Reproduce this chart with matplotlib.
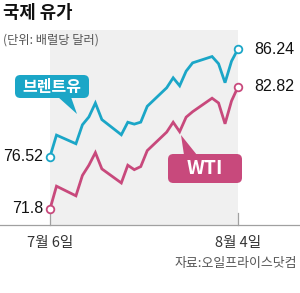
import matplotlib
matplotlib.use("Agg")
import matplotlib.pyplot as plt
import matplotlib.dates as mdates
from matplotlib import font_manager
from matplotlib.patches import FancyBboxPatch, Polygon
from matplotlib.lines import Line2D
import pandas as pd

plt.rcParams['font.family'] = ['Noto Sans CJK KR', 'DejaVu Sans']

# ---- data ----
dates = ["2023-07-06", "2023-07-07", "2023-07-10", "2023-07-11", "2023-07-12",
         "2023-07-13", "2023-07-14", "2023-07-17", "2023-07-18", "2023-07-19",
         "2023-07-20", "2023-07-21", "2023-07-24", "2023-07-25", "2023-07-26",
         "2023-07-27", "2023-07-28", "2023-07-31", "2023-08-01", "2023-08-02",
         "2023-08-03", "2023-08-04"]
brent = [76.52, 78.47, 77.69, 79.40, 80.11, 81.36, 79.87, 78.50, 79.63, 79.46,
         79.64, 81.07, 82.74, 83.64, 82.92, 84.24, 84.99, 85.56, 84.91, 83.20,
         85.14, 86.24]
wti = [71.80, 73.86, 72.99, 74.83, 75.75, 76.89, 75.42, 74.15, 75.75, 75.35,
       75.63, 77.07, 78.74, 79.63, 78.78, 80.09, 80.58, 81.80, 81.37, 79.49,
       81.55, 82.82]
series_names = ["브렌트유", "WTI"]
tick_labels = ["7월 6일", "8월 4일"]
title = "국제 유가"
unit = "(단위: 배럴당 달러)"
source = "자료:오일프라이스닷컴"

BRENT_C = "#1ba6c7"
WTI_C = "#c8497c"

names = {f.name for f in font_manager.fontManager.ttflist}
num_font = "Liberation Sans Narrow" if "Liberation Sans Narrow" in names else "Liberation Sans"

W, H = 300, 293
fig = plt.figure(figsize=(W / 100, H / 100), dpi=100)
ax = fig.add_axes([0, 0, 1, 1])
ax.set_axis_off()

x = mdates.date2num(pd.to_datetime(dates))
d0, d1 = x[0], x[-1]
# layout: first date at 50px, last at 238px
ppd = (238 - 50) / (d1 - d0)
ax.set_xlim(d0 - 50 / ppd, d1 + (W - 238) / ppd)
ppv = 11.08
ax.set_ylim(brent[0] - (H - 156.7) / ppv, brent[0] + 156.7 / ppv)

def fy(py):
    return 1 - py / H

def fx(px):
    return px / W

# grey panel
ax.axvspan(d0, d1, ymin=fy(225), ymax=fy(30), color="#f0f0f0", lw=0, zorder=0)
# baseline and end ticks
fig.add_artist(Line2D([0, 1], [fy(225), fy(225)], color="#a0a0a0", lw=0.9))
for xd in (d0, d1):
    ax.add_line(Line2D([xd, xd], [fy(213), fy(225)], color="#a0a0a0", lw=0.9,
                       transform=ax.get_xaxis_transform()))

# lines
for vals, c in ((brent, BRENT_C), (wti, WTI_C)):
    ax.plot(x, vals, color=c, lw=2.0, solid_joinstyle="miter", zorder=3)
    ax.plot([x[0], x[-1]], [vals[0], vals[-1]], ls="none", marker="o", ms=5.5,
            mfc="white", mec=c, mew=1.3, zorder=4)

# value labels
lab_kw = dict(fontsize=11.5, family=[num_font, "DejaVu Sans"], color="#111111", va="center")
ax.annotate(f"{brent[0]:.2f}", (x[0], brent[0]), xytext=(-7, 0), textcoords="offset pixels",
            ha="right", **lab_kw)
ax.annotate(f"{wti[0]:.1f}", (x[0], wti[0]), xytext=(-7, 0), textcoords="offset pixels",
            ha="right", **lab_kw)
ax.annotate(f"{brent[-1]:.2f}", (x[-1], brent[-1]), xytext=(16, 0), textcoords="offset pixels",
            ha="left", **lab_kw)
ax.annotate(f"{wti[-1]:.2f}", (x[-1], wti[-1]), xytext=(16, 0), textcoords="offset pixels",
            ha="left", **lab_kw)

# callout boxes (figure pixel coords)
def callout(x0, y0, x1, y1, tail, color, text, fs):
    box = FancyBboxPatch((fx(x0), fy(y1)), fx(x1 - x0), fy(y0) - fy(y1),
                         boxstyle="round,pad=0,rounding_size=0.018",
                         transform=fig.transFigure, fc=color, ec="none", zorder=5)
    fig.add_artist(box)
    tri = Polygon([(fx(a), fy(b)) for a, b in tail], closed=True, transform=fig.transFigure,
                  fc=color, ec="none", zorder=5)
    fig.add_artist(tri)
    fig.text(fx((x0 + x1) / 2), fy((y0 + y1) / 2), text, color="white", fontsize=fs,
             fontweight="bold", ha="center", va="center", zorder=6)

callout(15, 75, 89, 98, [(58, 97), (71, 97), (77, 114)], BRENT_C, series_names[0], 11.5)
callout(168, 154, 242, 183, [(184, 155), (197, 155), (181, 135)], WTI_C, series_names[1], 14)

# titles
fig.text(fx(3), fy(13), title, fontsize=12.8, fontweight="bold", color="#111111",
         ha="left", va="center")
fig.text(fx(3), fy(40), unit, fontsize=8.8, color="#555555", ha="left", va="center")

# x tick labels
for xd, lab in zip((d0, d1), tick_labels):
    ax.text(xd, fy(243), lab, transform=ax.get_xaxis_transform(), fontsize=10.5,
            color="#333333", ha="center", va="center")

fig.text(fx(297), fy(263), source, fontsize=9.3, color="#555555", ha="right", va="center")

fig.savefig("out.png", dpi=100)
